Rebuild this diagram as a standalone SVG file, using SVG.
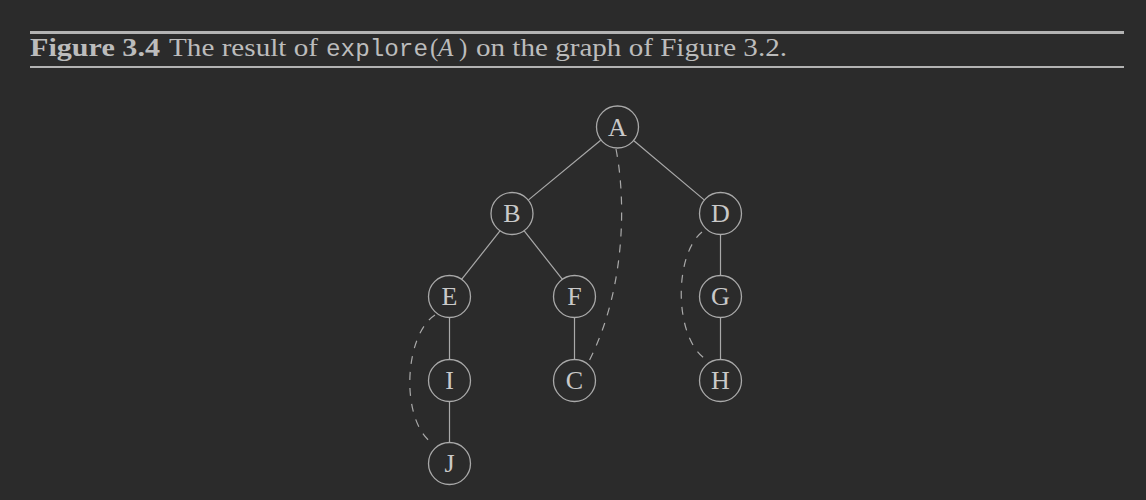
<svg xmlns="http://www.w3.org/2000/svg" width="1146" height="500" viewBox="0 0 1146 500">
<style>
.bg{fill:#2b2b2b}
.rule{stroke:#b3b3b3}
.cap{font-family:"Liberation Serif",serif;font-size:25px;fill:#bcbcbc}
.mono{font-family:"Liberation Mono",monospace;font-size:24px;fill:#bcbcbc}
.node circle{fill:none;stroke:#a9a9a9;stroke-width:1.3}
.node text{font-family:"Liberation Serif",serif;font-size:26px;fill:#c9c9c9;text-anchor:middle}
.edge{fill:none;stroke:#a9a9a9;stroke-width:1.2}
.back{stroke-dasharray:8 8}
</style>
<rect class="bg" x="0" y="0" width="1146" height="500"/>
<g id="caption">
<line class="rule" x1="30" y1="32.5" x2="1124" y2="32.5" stroke-width="3"/>
<line class="rule" x1="30" y1="67" x2="1124" y2="67" stroke-width="2"/>
<text class="cap" x="30" y="55.5" font-weight="bold" textLength="130" lengthAdjust="spacingAndGlyphs">Figure 3.4</text>
<text class="cap" x="169" y="55.5" textLength="149" lengthAdjust="spacingAndGlyphs">The result of</text>
<text class="mono" x="326" y="55.5" textLength="102" lengthAdjust="spacingAndGlyphs">explore</text>
<text class="cap" x="430" y="55.5">(</text>
<text class="cap" x="438" y="55.5" font-style="italic">A</text>
<text class="cap" x="459" y="55.5">)</text>
<text class="cap" x="476" y="55.5" textLength="311" lengthAdjust="spacingAndGlyphs">on the graph of Figure 3.2.</text>
</g>
<g id="connectors">
<line class="edge" x1="600.7" y1="140.3" x2="528.5" y2="199.9"/>
<line class="edge" x1="633.3" y1="140.3" x2="704.2" y2="199.9"/>
<line class="edge" x1="500.2" y1="230.7" x2="461.6" y2="279.3"/>
<line class="edge" x1="524" y1="230.7" x2="562.4" y2="279.3"/>
<line class="edge" x1="720.5" y1="234.5" x2="720.5" y2="275.5"/>
<line class="edge" x1="720.5" y1="317.5" x2="720.5" y2="359.5"/>
<line class="edge" x1="449.5" y1="317.5" x2="449.5" y2="359.5"/>
<line class="edge" x1="574.5" y1="317.5" x2="574.5" y2="359.5"/>
<line class="edge" x1="449.5" y1="401.5" x2="449.5" y2="442.5"/>
<path class="edge back" d="M616,149 C626,200 626,290 588,363"/>
<path class="edge back" d="M435,315 C404,335 400,420 432,443"/>
<path class="edge back" d="M702,232 C674,255 674,335 704,358"/>
</g>
<g id="node-A" class="node"><circle cx="617.5" cy="127" r="21"/><text x="617.5" y="135.5">A</text></g>
<g id="node-B" class="node"><circle cx="512" cy="213.5" r="21"/><text x="512" y="222">B</text></g>
<g id="node-D" class="node"><circle cx="720.5" cy="213.5" r="21"/><text x="720.5" y="222">D</text></g>
<g id="node-E" class="node"><circle cx="449.5" cy="296.5" r="21"/><text x="449.5" y="305">E</text></g>
<g id="node-F" class="node"><circle cx="574.5" cy="296.5" r="21"/><text x="574.5" y="305">F</text></g>
<g id="node-G" class="node"><circle cx="720.5" cy="296.5" r="21"/><text x="720.5" y="305">G</text></g>
<g id="node-I" class="node"><circle cx="449.5" cy="380.5" r="21"/><text x="449.5" y="389">I</text></g>
<g id="node-C" class="node"><circle cx="574.5" cy="380.5" r="21"/><text x="574.5" y="389">C</text></g>
<g id="node-H" class="node"><circle cx="720.5" cy="380.5" r="21"/><text x="720.5" y="389">H</text></g>
<g id="node-J" class="node"><circle cx="449.5" cy="463.5" r="21"/><text x="449.5" y="472">J</text></g>
</svg>
